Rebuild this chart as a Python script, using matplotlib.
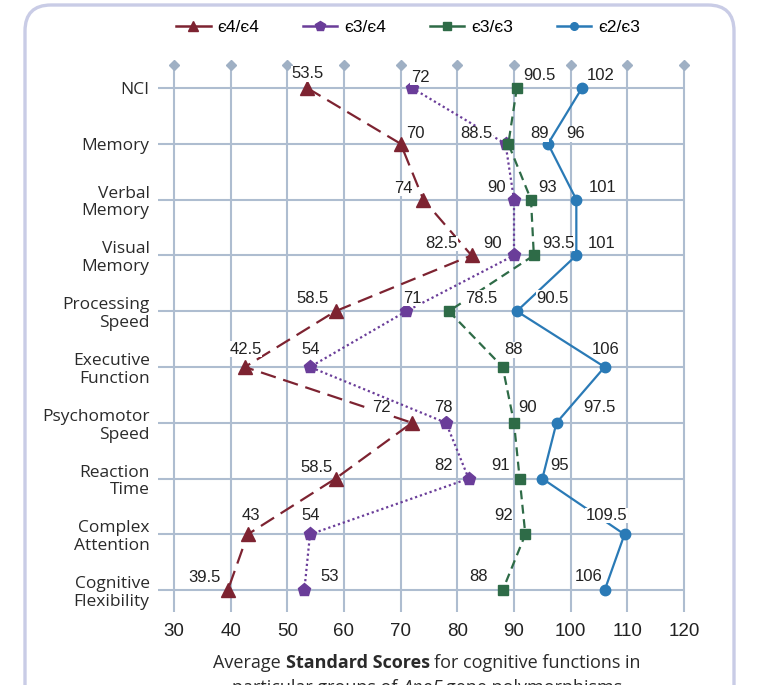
import matplotlib
matplotlib.use("Agg")
import matplotlib.pyplot as plt
from matplotlib.lines import Line2D
from matplotlib.patches import FancyBboxPatch
from matplotlib.transforms import IdentityTransform

categories = ["NCI", "Memory", "Verbal\nMemory", "Visual\nMemory", "Processing\nSpeed",
              "Executive\nFunction", "Psychomotor\nSpeed", "Reaction\nTime",
              "Complex\nAttention", "Cognitive\nFlexibility"]
e44 = [53.5, 70, 74, 82.5, 58.5, 42.5, 72, 58.5, 43, 39.5]
e34 = [72, 88.5, 90, 90, 71, 54, 78, 82, 54, 53]
e33 = [90.5, 89, 93, 93.5, 78.5, 88, 90, 91, 92, 88]
e23 = [102, 96, 101, 101, 90.5, 106, 97.5, 95, 109.5, 106]
x_ticks = [30, 40, 50, 60, 70, 80, 90, 100, 110, 120]

# label offsets in pixels (dx, dy) from each marker
off44 = [(0, 14), (15, 10), (-20, 11), (-30, 12), (-23, 13), (1, 18), (-31, 15), (-19, 11), (3, 19), (-23, 13)]
off34 = [(8, 11), (-29, 10), (-17, 12), (-21, 12), (6, 13), (1, 17), (-3, 15), (-25, 13), (1, 19), (25, 14)]
off33 = [(23, 13), (31, 10), (17, 12), (25, 12), (32, 13), (11, 17), (14, 15), (-19, 13), (-22, 19), (-24, 14)]
off23 = [(19, 13), (28, 10), (26, 12), (25, 12), (36, 13), (1, 18), (43, 15), (17, 13), (-18, 19), (-16, 14)]

W, H = 759, 685
fig = plt.figure(figsize=(W / 100, H / 100), dpi=100)
fig.patch.set_facecolor("white")

# rounded frame
frame = FancyBboxPatch((25, -60), 709, 740, boxstyle="round,pad=0,rounding_size=26",
                       transform=IdentityTransform(), fill=False, edgecolor="#C9CCE6", linewidth=2.4)
fig.add_artist(frame)

ax = fig.add_axes([158 / W, 1 - 615 / H, 542 / W, 560 / H])
px = 510 / 90.0
ax.set_xlim(30 - 16 / px, 120 + 16 / px)
ax.set_ylim((615 - 88) / 55.8, (55 - 88) / 55.8)
for s in ax.spines.values():
    s.set_visible(False)

grid_c = "#AEBDD0"
rows = list(range(len(categories)))
ax.vlines(x_ticks, -0.41, 9.39, color=grid_c, lw=1.5, zorder=1)
ax.plot(x_ticks, [-0.41] * len(x_ticks), "D", color="#9FB0C4", ms=5.5, zorder=1, clip_on=False)
ax.hlines(rows, 30 - 16 / px, 120, color=grid_c, lw=1.5, zorder=1)

num_font = ["Liberation Sans Narrow", "Liberation Sans"]
lab_font = ["Open Sans", "DejaVu Sans"]

ax.set_xticks(x_ticks)
ax.set_xticklabels([str(v) for v in x_ticks], family=num_font, fontsize=13.5, color="#222222")
ax.set_yticks(rows)
ax.set_yticklabels(categories, family=lab_font, fontsize=12.5, color="#2a2a2a", linespacing=1.15)
ax.tick_params(axis="x", length=0, pad=6)
ax.tick_params(axis="y", length=0, pad=6)

series = [
    ("є4/є4", e44, off44, "#7D2331", "^", (0, (7, 3.5)), 9.5),
    ("є3/є4", e34, off34, "#6A3D99", "p", (0, (1, 1.3)), 9.5),
    ("є3/є3", e33, off33, "#2E6B47", "s", (0, (4, 2.5)), 7.5),
    ("є2/є3", e23, off23, "#2A7AB6", "o", "-", 7.5),
]
handles = []
for name, vals, offs, col, mk, ls, ms in series:
    ax.plot(vals, rows, color=col, ls=ls, lw=1.6, marker=mk, ms=ms, zorder=3, clip_on=False)
    for v, r, (dx, dy) in zip(vals, rows, offs):
        ax.annotate(f"{v:g}", (v, r), xytext=(dx, dy), textcoords="offset pixels",
                    ha="center", va="center", family=num_font, fontsize=12, color="#222222",
                    zorder=4, bbox=dict(boxstyle="square,pad=0.02", fc="white", ec="none"))
    handles.append(Line2D([], [], color=col, lw=1.8, marker=mk, ms=ms - 2))

fig.legend(handles, [s[0] for s in series], loc="center", bbox_to_anchor=(408 / W, 1 - 27 / H),
           ncol=4, frameon=False, prop={"family": num_font, "size": 12.5},
           handlelength=2.0, columnspacing=2.5, handletextpad=0.4)


def rich_line(parts, cx, cy, size=13):
    fig.canvas.draw()
    r = fig.canvas.get_renderer()
    probe = fig.text(0, 0, "a a", family=lab_font, fontsize=size)
    probe2 = fig.text(0, 0, "aa", family=lab_font, fontsize=size)
    space = probe.get_window_extent(r).width - probe2.get_window_extent(r).width
    probe.remove()
    probe2.remove()
    texts, widths = [], []
    for txt, kw in parts:
        t = fig.text(0, 0, txt, family=lab_font, fontsize=size, color="#2a2a2a", va="center", **kw)
        texts.append(t)
        widths.append(t.get_window_extent(r).width)
    total = sum(widths) + space * (len(parts) - 1)
    x = cx - total / 2
    for t, w in zip(texts, widths):
        t.set_position((x / W, 1 - cy / H))
        x += w + space


rich_line([("Average", {}), ("Standard Scores", {"weight": "bold"}),
           ("for cognitive functions in", {})], 427, 663)
rich_line([("particular groups of", {}), ("ApoE", {"style": "italic"}),
           ("gene polymorphisms", {})], 427, 688)

fig.savefig("out.png", dpi=100)
